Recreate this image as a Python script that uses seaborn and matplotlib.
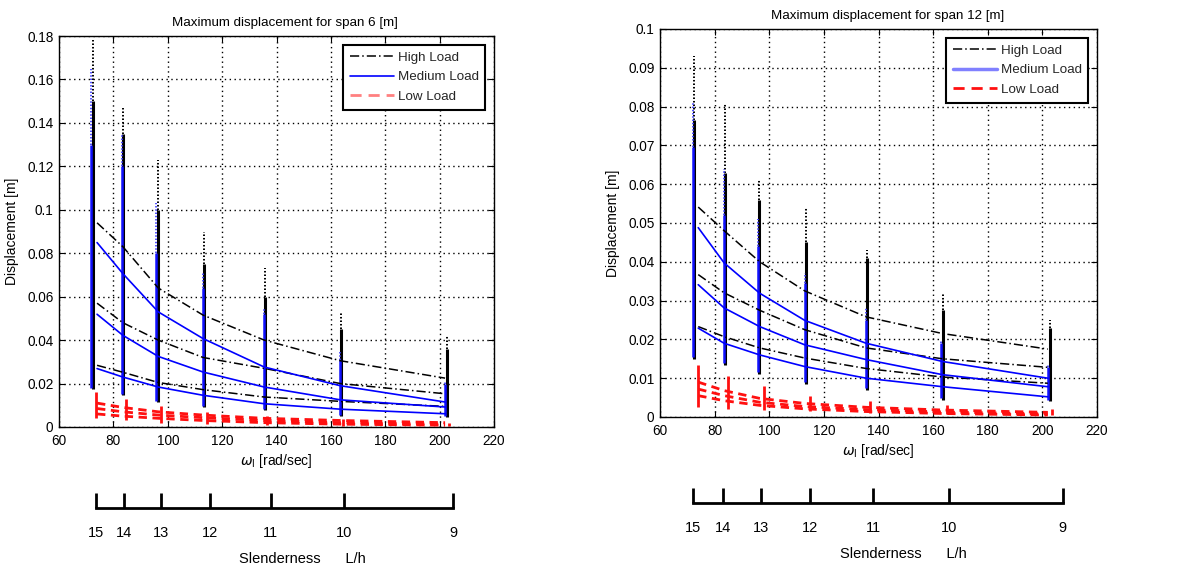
import numpy as np
import pandas as pd
import matplotlib
matplotlib.use('Agg')
import matplotlib.pyplot as plt
import seaborn as sns
from matplotlib.lines import Line2D
from matplotlib.ticker import FuncFormatter

sns.set_theme(style='white')
plt.rcParams['font.family'] = ['Liberation Sans', 'DejaVu Sans']
plt.rcParams['mathtext.fontset'] = 'dejavusans'

# ---------------- data ----------------
loads = ['High Load', 'Medium Load', 'Low Load']
omega_curve = [74, 83.5, 96.5, 113, 135.5, 163.5, 202]

# span 6 m : three curves per load level
s6_high = [[0.094, 0.083, 0.064, 0.0515, 0.040, 0.0305, 0.0225],
           [0.057, 0.048, 0.040, 0.032, 0.027, 0.020, 0.0153],
           [0.0284, 0.0252, 0.0205, 0.0172, 0.0138, 0.0118, 0.0095]]
s6_medium = [[0.0849, 0.0706, 0.053, 0.0407, 0.0276, 0.019, 0.0115],
             [0.0519, 0.0422, 0.0325, 0.0253, 0.0184, 0.0125, 0.0092],
             [0.0269, 0.023, 0.0184, 0.0146, 0.0107, 0.0082, 0.0061]]
s6_low = [[0.011, 0.009, 0.007, 0.0055, 0.004, 0.003, 0.002],
          [0.0085, 0.007, 0.0055, 0.0043, 0.003, 0.002, 0.0013],
          [0.006, 0.005, 0.004, 0.003, 0.002, 0.0013, 0.0008]]

# span 6 m : vertical clusters of simulated maxima
s6_cluster_x = [72.2, 83.3, 96.1, 113.1, 135.6, 163.6, 202.3]
s6_cluster_bottom = [0.0175, 0.0146, 0.0115, 0.0092, 0.0077, 0.005, 0.0046]
s6_high_dense = [0.150, 0.135, 0.100, 0.075, 0.060, 0.045, 0.036]
s6_high_peak = [0.178, 0.147, 0.123, 0.090, 0.073, 0.053, 0.042]
s6_med_dense = [0.130, 0.120, 0.080, 0.064, 0.052, 0.031, 0.020]
s6_med_peak = [0.165, 0.135, 0.103, 0.071, 0.055, 0.035, 0.021]
s6_low_x = [73.6, 84.8, 97.7, 114.3, 136.6, 164.5, 203.3]
s6_low_top = [0.016, 0.013, 0.0095, 0.007, 0.005, 0.0035, 0.002]
s6_low_bottom = [0.004, 0.003, 0.002, 0.0015, 0.001, 0.0005, 0.0003]

# span 12 m : three curves per load level
s12_high = [[0.0541, 0.048, 0.040, 0.0325, 0.0258, 0.0215, 0.0175],
            [0.0367, 0.032, 0.0275, 0.0225, 0.0178, 0.015, 0.0128],
            [0.0233, 0.0207, 0.0178, 0.0152, 0.0125, 0.0103, 0.0087]]
s12_medium = [[0.0488, 0.0397, 0.0319, 0.0249, 0.019, 0.0143, 0.0100],
              [0.0341, 0.0281, 0.0233, 0.0186, 0.0148, 0.0109, 0.0078],
              [0.0229, 0.019, 0.016, 0.013, 0.010, 0.0078, 0.0052]]
s12_low = [[0.009, 0.0068, 0.0048, 0.0035, 0.0025, 0.0018, 0.0012],
           [0.0072, 0.0055, 0.0038, 0.0027, 0.0019, 0.0013, 0.0008],
           [0.0055, 0.0042, 0.003, 0.0021, 0.0014, 0.0009, 0.0005]]

s12_cluster_x = [72.2, 83.5, 96.0, 113.3, 135.7, 163.2, 202.4]
s12_cluster_bottom = [0.015, 0.0135, 0.011, 0.0085, 0.007, 0.0045, 0.004]
s12_high_dense = [0.0766, 0.0628, 0.056, 0.045, 0.041, 0.0276, 0.023]
s12_high_peak = [0.093, 0.081, 0.061, 0.054, 0.043, 0.032, 0.025]
s12_med_dense = [0.0697, 0.052, 0.044, 0.0345, 0.025, 0.019, 0.013]
s12_med_peak = [0.081, 0.064, 0.051, 0.037, 0.028, 0.0195, 0.0135]
s12_low_x = [73.8, 84.8, 98.0, 115.0, 137.0, 165.0, 203.5]
s12_low_top = [0.0135, 0.0105, 0.008, 0.0055, 0.004, 0.003, 0.002]
s12_low_bottom = [0.0025, 0.002, 0.0018, 0.0015, 0.001, 0.0008, 0.0005]

# slenderness scale under each plot
slender_labels = [15, 14, 13, 12, 11, 10, 9]
s6_slender_omega = [73.5, 83.9, 97.7, 115.4, 137.8, 164.9, 205.0]
s12_slender_omega = [72.1, 83.1, 96.9, 115.0, 138.0, 165.8, 207.5]

x_ticks = [60, 80, 100, 120, 140, 160, 180, 200, 220]
s6_y_ticks = [0, 0.02, 0.04, 0.06, 0.08, 0.1, 0.12, 0.14, 0.16, 0.18]
s12_y_ticks = [0, 0.01, 0.02, 0.03, 0.04, 0.05, 0.06, 0.07, 0.08, 0.09, 0.1]

# ---------------- styles ----------------
palette = {'High Load': 'black', 'Medium Load': '#0000ff', 'Low Load': '#ff1010'}
dashes = {'High Load': (6, 2, 1, 2), 'Medium Load': '', 'Low Load': (3, 2)}
sizes = {'High Load': 1.1, 'Medium Load': 1.2, 'Low Load': 2.0}

W, H = 1183, 566
fig = plt.figure(figsize=(W / 100, H / 100), dpi=100)


def frac_box(l, t, r, b):
    return [l / W, 1 - b / H, (r - l) / W, (b - t) / H]


def draw_panel(box, curves, cl, yticks, title, legend_style):
    ax = fig.add_axes(frac_box(*box))
    rows = []
    for load, clist in zip(loads, curves):
        for ci, ys in enumerate(clist):
            for x, y in zip(omega_curve, ys):
                rows.append({'omega': x, 'disp': y, 'load': load,
                             'curve': f'{load}-{ci}'})
    df = pd.DataFrame(rows)

    cx = np.array(cl['x'])
    # clusters of simulated maxima
    ax.vlines(cx + 0.25, cl['bottom'], cl['hd'], color='black', lw=2.2, zorder=2)
    ax.vlines(cx + 0.25, cl['hd'], cl['hp'], color='black', lw=1.4,
              linestyles=(0, (0.8, 1.0)), zorder=2)
    ax.vlines(cx - 0.25, np.array(cl['bottom']) + 0.0005, cl['md'], color='#1010ff',
              lw=1.8, zorder=2.1)
    ax.vlines(cx - 0.25, cl['md'], cl['mp'], color='#4040ff', lw=1.3,
              linestyles=(0, (0.8, 1.0)), zorder=2.1)
    ax.vlines(cl['lx'], cl['lb'], cl['lt'], color='#ff1010', lw=2.0, zorder=2)

    sns.lineplot(data=df, x='omega', y='disp', hue='load', style='load',
                 size='load', units='curve', estimator=None, sort=False,
                 palette=palette, dashes=dashes, sizes=sizes, ax=ax,
                 legend=False, zorder=3)

    ax.set_xlim(60, 220)
    ax.set_ylim(yticks[0], yticks[-1])
    ax.set_xticks(x_ticks)
    ax.set_yticks(yticks)
    ax.yaxis.set_major_formatter(FuncFormatter(lambda v, p: f'{v:g}'))
    ax.tick_params(axis='both', labelsize=9.8, colors='black', direction='in',
                   length=4, width=0.8, left=True, bottom=True,
                   top=True, right=True)
    ax.tick_params(axis='x', pad=5)
    ax.tick_params(axis='y', pad=4)
    ax.grid(True, color='black', linestyle=(0, (1, 2.5)), linewidth=1.0)
    for s in ax.spines.values():
        s.set_color('black')
        s.set_linewidth(1.0)
    ax.set_xlabel(r'$\omega_{\mathrm{l}}$ [rad/sec]', fontsize=10, labelpad=3,
                  color='black')
    ax.set_ylabel('Displacement [m]', fontsize=10, labelpad=6, color='black')
    ax.set_title(title, fontsize=9.6, pad=7, x=0.52, color='black')

    handles = [Line2D([], [], color='black', lw=1.1, dashes=(6, 2, 1, 2)),
               Line2D([], [], color=legend_style['mc'], lw=legend_style['mw']),
               Line2D([], [], color=legend_style['lc'], lw=2.0, dashes=(4, 2.5))]
    leg = ax.legend(handles, loads, loc='upper right', fontsize=9.6,
                    frameon=True, fancybox=False, framealpha=1,
                    edgecolor='black', handlelength=3.3, handletextpad=0.3,
                    labelspacing=0.55, borderaxespad=0.65, borderpad=0.5)
    leg.get_frame().set_linewidth(1.5)
    return ax


def draw_slender(left, right, y_spine, positions, label_frac):
    h = 20
    ax2 = fig.add_axes([left / W, 1 - y_spine / H, (right - left) / W, h / H])
    ax2.set_facecolor('none')
    ax2.set_xlim(60, 220)
    ax2.set_ylim(0, 1)
    for k in ['top', 'left', 'right']:
        ax2.spines[k].set_visible(False)
    ax2.spines['bottom'].set_color('black')
    ax2.spines['bottom'].set_linewidth(2.0)
    ax2.spines['bottom'].set_bounds(min(positions), max(positions))
    ax2.set_yticks([])
    ax2.set_xticks(positions)
    ax2.set_xticklabels([str(v) for v in slender_labels])
    ax2.tick_params(axis='x', direction='in', length=11, width=2.0,
                    colors='black', labelsize=10.5, pad=13, bottom=True)
    ax2.set_xlabel('Slenderness      L/h', fontsize=10.5, color='black')
    ax2.xaxis.set_label_coords(label_frac, -2.2)


cl6 = dict(x=s6_cluster_x, bottom=s6_cluster_bottom, hd=s6_high_dense,
           hp=s6_high_peak, md=s6_med_dense, mp=s6_med_peak,
           lx=s6_low_x, lt=s6_low_top, lb=s6_low_bottom)
cl12 = dict(x=s12_cluster_x, bottom=s12_cluster_bottom, hd=s12_high_dense,
            hp=s12_high_peak, md=s12_med_dense, mp=s12_med_peak,
            lx=s12_low_x, lt=s12_low_top, lb=s12_low_bottom)

draw_panel((59, 36, 494, 427), [s6_high, s6_medium, s6_low], cl6, s6_y_ticks,
           'Maximum displacement for span 6 [m]',
           dict(mc='#0000ff', mw=1.2, lc='#ff8080'))
draw_panel((660, 29, 1097, 417), [s12_high, s12_medium, s12_low], cl12,
           s12_y_ticks, 'Maximum displacement for span 12 [m]',
           dict(mc='#8080ff', mw=2.5, lc='#ff1010'))

draw_slender(59, 494, 508, s6_slender_omega, 0.559)
draw_slender(660, 1097, 503, s12_slender_omega, 0.558)

fig.savefig('out.png', dpi=100, facecolor='white')
